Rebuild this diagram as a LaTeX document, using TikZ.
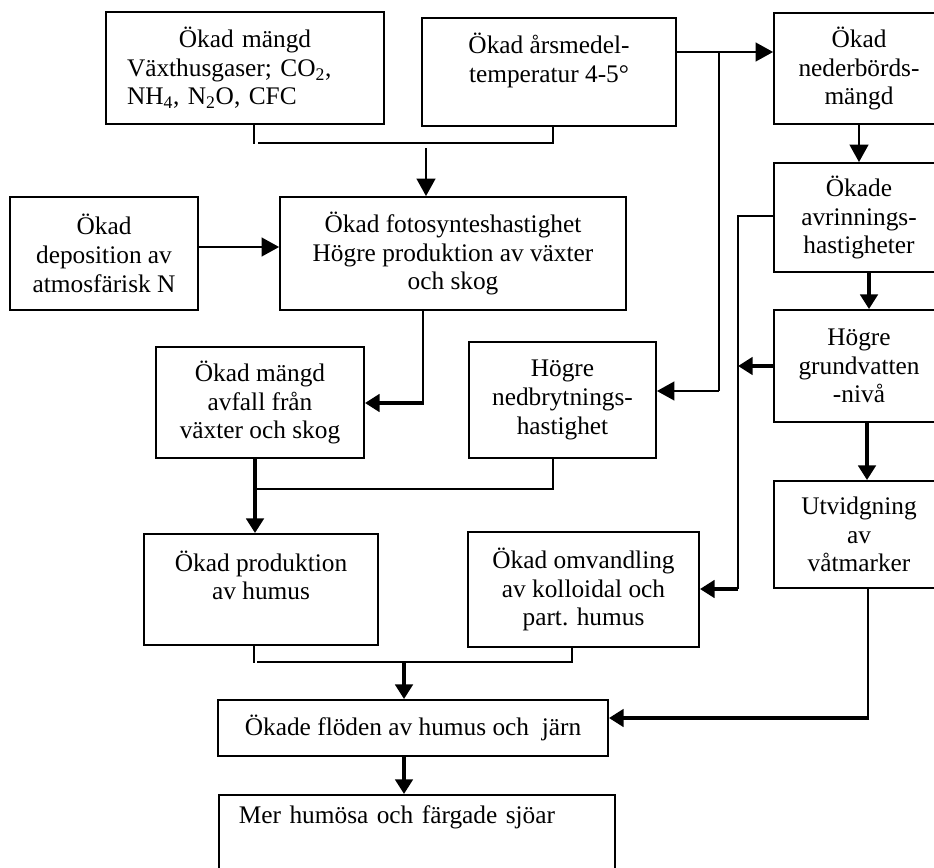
\documentclass[tikz,border=0pt]{standalone}
\usepackage{fontspec}
\setmainfont{Liberation Serif}
\usetikzlibrary{arrows.meta,calc}
\newdimen\PX \PX=0.75pt
\begin{document}
\begin{tikzpicture}[x=0.75pt,y=-0.75pt,
  box/.style={draw,line width=1.4pt,inner sep=0pt,align=center,
    font=\fontsize{19}{21.5}\selectfont},
  thin/.style={line width=1.4pt},
  thick/.style={line width=3pt},
  tarr/.style={thin,-{Triangle[length=13pt,width=14pt]}},
  karr/.style={thick,-{Triangle[length=11pt,width=13pt]}},
  ]
\clip (0,0) rectangle (934,867);
\fill[white] (0,0) rectangle (934,867);
% boxes
\node[box,minimum width=278\PX,minimum height=112\PX,text width=236\PX,align=left] (A) at (245,68)
  {\makebox[236\PX]{Ökad mängd}\\Växthusgaser; CO\textsubscript{2},\\NH\textsubscript{4}, N\textsubscript{2}O, CFC};
\node[box,minimum width=254\PX,minimum height=108\PX] (B) at (549,72)
  {Ökad årsmedel-\\temperatur 4-5°\\\mbox{}};
\node[box,minimum width=170\PX,minimum height=111\PX] (C) at (859,68.5)
  {Ökad\\nederbörds-\\mängd};
\node[box,minimum width=188\PX,minimum height=113\PX] (D) at (104,253.5)
  {Ökad\\deposition av\\atmosfärisk N};
\node[box,minimum width=346\PX,minimum height=113\PX] (F) at (453,253.5)
  {Ökad fotosynteshastighet\\Högre produktion av växter\\och skog};
\node[box,minimum width=170\PX,minimum height=109\PX] (E) at (859,217.5)
  {Ökade\\avrinnings-\\hastigheter};
\node[box,minimum width=170\PX,minimum height=112\PX] (G) at (859,366)
  {Högre\\grundvatten\\-nivå};
\node[box,minimum width=208\PX,minimum height=111\PX] (L) at (260,402.5)
  {Ökad mängd\\avfall från\\växter och skog};
\node[box,minimum width=187\PX,minimum height=116\PX] (H) at (562.5,400)
  {Högre\\nedbrytnings-\\hastighet};
\node[box,minimum width=170\PX,minimum height=107\PX] (I) at (859,534.5)
  {Utvidgning\\av\\våtmarker};
\node[box,minimum width=234\PX,minimum height=111\PX] (M) at (261,589.5)
  {Ökad produktion\\av humus\\\mbox{}};
\node[box,minimum width=231\PX,minimum height=115\PX] (K) at (583.5,589.5)
  {Ökad omvandling\\av kolloidal och\\part. humus};
\node[box,minimum width=390\PX,minimum height=56\PX] (N) at (413,728)
  {Ökade flöden av humus och \ järn};
\node[box,anchor=north west,align=left,text width=356\PX,inner xsep=20\PX,inner ysep=0pt,
  text height=29\PX,text depth=90\PX] (O) at (218,794)
  {Mer humösa och färgade sjöar};
% junction coordinates
\coordinate (a1) at (254,144);
\coordinate (a2) at (258,143);
\coordinate (b1) at (553,143);
\coordinate (f1) at (426,148);
\coordinate (t1) at (719,52);
\coordinate (t2) at (719,391);
\coordinate (e1) at (738,216);
\coordinate (e2) at (738,589);
\coordinate (g1) at (738,366);
\coordinate (p1) at (423,403);
\coordinate (h1) at (553,489);
\coordinate (h2) at (256,489);
\coordinate (m1) at (254,663);
\coordinate (m2) at (257,662);
\coordinate (k1) at (572,662);
\coordinate (n1) at (404,662);
\coordinate (i1) at (868,718);
% connectors
\draw[thin] (A.south -| a1) -- (a1);
\draw[thin] (a2) -- (b1) -- (B.south -| b1);
\draw[tarr] (f1) -- (F.north -| f1);
\draw[tarr] (D.east |- 0,247) -- (F.west |- 0,247);
\draw[tarr] (B.east |- t1) -- (C.west |- t1);
\draw[thin] (t1) -- (t2);
\draw[tarr] (t2) -- (H.east |- t2);
\draw[tarr] (C.south) -- (E.north);
\draw[thin] (E.west |- e1) -- (e1) -- (e2);
\draw[karr] (e2) -- (K.east |- e2);
\draw[karr] (G.west |- g1) -- (g1);
\draw[karr] (E.south -| 869,0) -- (G.north -| 869,0);
\draw[karr] (G.south -| 867,0) -- (I.north -| 867,0);
\draw[thin] (I.south -| i1) -- (i1);
\draw[karr] ($(i1)+(1,0)$) -- (N.east |- i1);
\draw[thin] (F.south -| p1) -- (p1);
\draw[karr] ($(p1)+(0.5,0)$) -- (L.east |- p1);
\draw[karr] (L.south -| 255,0) -- (M.north -| 255,0);
\draw[thin] (H.south -| h1) -- (h1) -- (h2);
\draw[thin] (M.south -| m1) -- (m1);
\draw[thin] (m2) -- (k1) -- (K.south -| k1);
\draw[karr] (n1) -- (N.north -| n1);
\draw[karr] (N.south -| n1) -- (O.north -| n1);
\end{tikzpicture}
\end{document}
